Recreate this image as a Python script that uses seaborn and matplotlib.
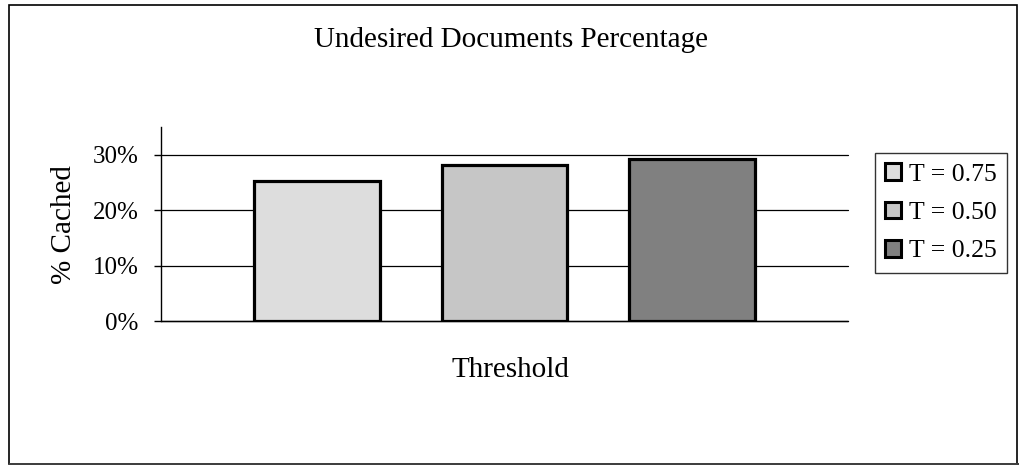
import matplotlib
matplotlib.use("Agg")
import matplotlib.pyplot as plt
from matplotlib.patches import Patch, Rectangle
from matplotlib.ticker import PercentFormatter
import seaborn as sns
import pandas as pd

# Share of undesired documents that ended up cached, per similarity threshold
series = ["T = 0.75", "T = 0.50", "T = 0.25"]
cached = [0.252, 0.281, 0.292]
colors = ["#DDDDDD", "#C6C6C6", "#808080"]
yticks = [0.0, 0.1, 0.2, 0.3]

df = pd.DataFrame({"group": [""] * len(series), "series": series, "cached": cached})

sns.set_theme(style="white")
plt.rcParams["font.family"] = ["Liberation Serif", "DejaVu Serif"]
plt.rcParams.update({"text.color": "black", "axes.labelcolor": "black",
                     "xtick.color": "black", "ytick.color": "black"})

fig = plt.figure(figsize=(10.21, 4.66), dpi=100)
ax = fig.add_axes([0.1577, 0.3105, 0.6728, 0.417])

sns.barplot(data=df, x="group", y="cached", hue="series", hue_order=series,
            palette=colors, width=0.82, gap=0.33, edgecolor="black",
            linewidth=2.3, legend=False, ax=ax, zorder=3)

ax.set_xlim(-0.5, 0.5)
ax.set_ylim(0, 0.35)
ax.set_yticks(yticks)
ax.yaxis.set_major_formatter(PercentFormatter(1.0, decimals=0))
for gl in ax.yaxis.get_gridlines():
    gl.set_clip_on(False)
ax.grid(axis="y", color="black", linewidth=0.9, zorder=0)
ax.set_axisbelow(True)
ax.axhline(0, color="black", linewidth=1.0, zorder=2, clip_on=False)
ax.tick_params(axis="y", labelsize=18, length=5, width=1, color="black",
               direction="out", left=True, pad=11)
ax.tick_params(axis="x", bottom=False, labelbottom=False)
for side in ("top", "right", "bottom"):
    ax.spines[side].set_visible(False)
ax.spines["left"].set_color("black")
ax.spines["left"].set_linewidth(1)

ax.set_ylabel("% Cached", fontsize=21)
ax.yaxis.set_label_coords(-0.141, 0.5)
ax.yaxis.label.set_va("center")
ax.set_xlabel("Threshold", fontsize=21)
ax.xaxis.set_label_coords(0.508, -0.25)
ax.xaxis.label.set_va("center")

fig.suptitle("Undesired Documents Percentage", fontsize=21, y=0.914, va="center")

handles = [Patch(facecolor=c, edgecolor="black", linewidth=2.2) for c in colors]
leg = fig.legend(handles, series, loc="upper left",
                 bbox_to_anchor=(875 / 1021, 1 - 153 / 466),
                 bbox_transform=fig.transFigure, fontsize=18.5,
                 frameon=True, fancybox=False, shadow=False,
                 borderaxespad=0, borderpad=0.4, labelspacing=0.62,
                 handlelength=0.62, handleheight=0.62, handletextpad=0.3)
leg.get_frame().set_edgecolor("black")
leg.get_frame().set_linewidth(1)

# Outer frame around the whole chart area
fig.patches.append(Rectangle((9 / 1021, 2 / 466), 1008 / 1021, 459 / 466,
                             transform=fig.transFigure, fill=False,
                             edgecolor="black", linewidth=1.2))
fig.patches.append(Rectangle((9 / 1021, 1 / 466), 1010 / 1021, 2 / 466,
                             transform=fig.transFigure, facecolor="#404040",
                             edgecolor="none"))

fig.savefig("out.png", dpi=100)
